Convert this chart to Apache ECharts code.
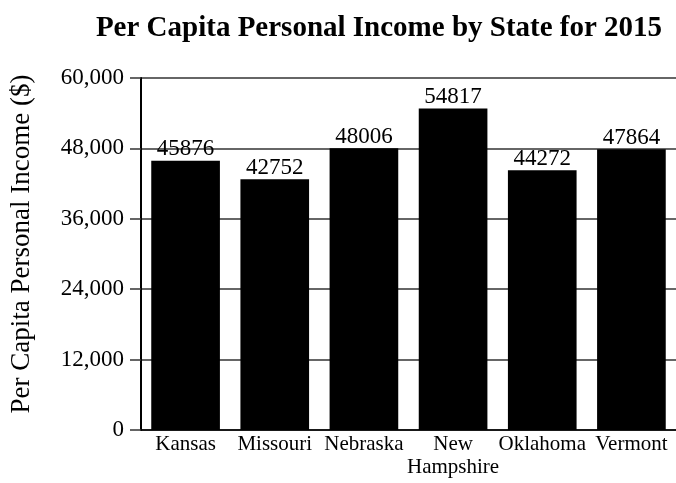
<!DOCTYPE html>
<html>
<head>
<meta charset="utf-8">
<script src="https://cdn.jsdelivr.net/npm/echarts@6/dist/echarts.min.js"></script>
<style>
html,body{margin:0;padding:0;background:#fff;}
#c{width:676px;height:483px;}
</style>
</head>
<body>
<div id="c"></div>
<script>
const categories = ["Kansas", "Missouri", "Nebraska", "New\nHampshire", "Oklahoma", "Vermont"];
const incomeValues = [45876, 42752, 48006, 54817, 44272, 47864];
const yTicks = { min: 0, max: 60000, interval: 12000 };
const titleText = "Per Capita Personal Income by State for 2015";
const yAxisName = "Per Capita Personal Income ($)";

const serif = '"Liberation Serif", "DejaVu Serif", serif';
const chart = echarts.init(document.getElementById('c'), null, {renderer: 'canvas'});
chart.setOption({
  animation: false,
  backgroundColor: '#fff',
  title: {
    text: titleText,
    left: 374, top: 9, textAlign: 'center',
    textStyle: {fontFamily: serif, fontWeight: 'bold', fontSize: 29, color: '#000'}
  },
  grid: {left: 141, right: 0, top: 78, bottom: 53, containLabel: false},
  xAxis: {
    type: 'category',
    data: categories,
    axisLine: {show: true, lineStyle: {color: '#000', width: 1.5}},
    axisTick: {show: false},
    axisLabel: {fontFamily: serif, fontSize: 21, color: '#000', margin: 3, lineHeight: 23, interval: 0}
  },
  yAxis: {
    type: 'value',
    min: yTicks.min, max: yTicks.max, interval: yTicks.interval,
    name: yAxisName,
    nameLocation: 'middle',
    nameGap: 106,
    nameTextStyle: {fontFamily: serif, fontSize: 27, color: '#000', padding: [0, 0, 0, 20]},
    axisLine: {show: true, lineStyle: {color: '#000', width: 2}},
    axisTick: {show: true, length: 11, lineStyle: {color: '#333', width: 1.5}},
    axisLabel: {
      fontFamily: serif, fontSize: 23, color: '#000', margin: 17,
      formatter: v => v === 0 ? '0' : v.toLocaleString('en-US')
    },
    splitLine: {show: true, lineStyle: {color: '#333', width: 1.5}}
  },
  series: [{
    type: 'bar',
    data: incomeValues,
    barCategoryGap: '23%',
    itemStyle: {color: '#000'},
    label: {
      show: true, position: 'top', distance: 0,
      fontFamily: serif, fontSize: 23, color: '#000'
    }
  }]
});
</script>
</body>
</html>
